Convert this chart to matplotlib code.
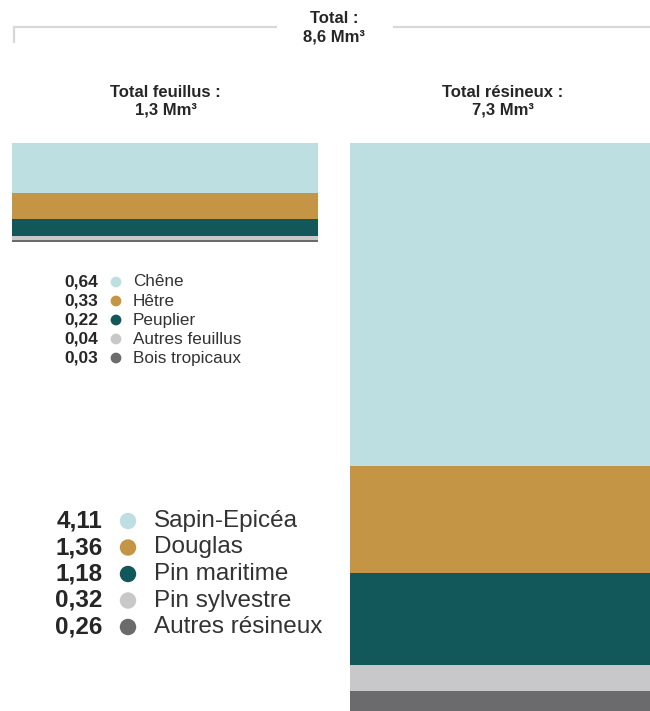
import matplotlib
matplotlib.use("Agg")
import matplotlib.pyplot as plt
import numpy as np

plt.rcParams['font.family'] = ['Liberation Sans', 'DejaVu Sans']

# Data
feuillus_names = ["Chêne", "Hêtre", "Peuplier", "Autres feuillus", "Bois tropicaux"]
feuillus_vals = [0.64, 0.33, 0.22, 0.04, 0.03]
resineux_names = ["Sapin-Epicéa", "Douglas", "Pin maritime", "Pin sylvestre", "Autres résineux"]
resineux_vals = [4.11, 1.36, 1.18, 0.32, 0.26]
colors = ["#BEDFE1", "#C59546", "#12575A", "#C8C8CA", "#6B6B6E"]
total_lines = ["Total :", "8,6 Mm³"]
feuillus_lines = ["Total feuillus :", "1,3 Mm³"]
resineux_lines = ["Total résineux :", "7,3 Mm³"]

W, H = 650, 711
fig = plt.figure(figsize=(W / 100, H / 100), dpi=100)

# Bar axes (data units in Mm3), spanning from y=143px to bottom
bar_top_px = 143
res_total = sum(resineux_vals)
axb = fig.add_axes([0, 0, 1, (H - bar_top_px) / H])
axb.set_xlim(0, W)
axb.set_ylim(res_total, 0)
axb.axis("off")

def stack(ax, xc, width, vals):
    bottom = 0.0
    for v, c in zip(vals, colors):
        ax.bar(xc, v, width=width, bottom=bottom, color=c, edgecolor="none", align="center")
        bottom += v

stack(axb, 165, 306, feuillus_vals)
stack(axb, 500, 300, resineux_vals)

# Overlay axes in pixel coordinates
ax = fig.add_axes([0, 0, 1, 1])
ax.set_xlim(0, W)
ax.set_ylim(H, 0)
ax.axis("off")

# Bracket line
lc = "#D8D8D8"
ax.plot([14, 14, 277], [43, 27, 27], color=lc, lw=1.6, solid_capstyle="butt",
        solid_joinstyle="miter")
ax.plot([393, 650], [27, 27], color=lc, lw=1.6, solid_capstyle="butt")

tc = "#262626"
def two_lines(x, y1, y2, lines):
    ax.text(x, y1, lines[0], ha="center", va="center", fontsize=12, fontweight="bold", color=tc)
    ax.text(x, y2, lines[1], ha="center", va="center", fontsize=12, fontweight="bold", color=tc)

two_lines(334, 18.5, 37, total_lines)
two_lines(165.5, 92.5, 110, feuillus_lines)
two_lines(503, 92.5, 110, resineux_lines)

# Small legend (feuillus)
ys = 282 + 19 * np.arange(len(feuillus_vals))
for y, v, n, c in zip(ys, feuillus_vals, feuillus_names, colors):
    ax.text(98.5, y, f"{v:.2f}".replace(".", ","), ha="right", va="center", fontsize=12.5,
            fontweight="bold", color=tc)
    ax.scatter([116], [y], s=60, color=c, edgecolors="none")
    ax.text(133, y, n, ha="left", va="center", fontsize=12.3, color="#333333")

# Big legend (résineux)
ys2 = 521 + 26.5 * np.arange(len(resineux_vals))
for y, v, n, c in zip(ys2, resineux_vals, resineux_names, colors):
    ax.text(102.5, y, f"{v:.2f}".replace(".", ","), ha="right", va="center", fontsize=17.5,
            fontweight="bold", color=tc)
    ax.scatter([128], [y], s=140, color=c, edgecolors="none")
    ax.text(154, y, n, ha="left", va="center", fontsize=17.5, color="#333333")

fig.savefig("out.png", dpi=100)
